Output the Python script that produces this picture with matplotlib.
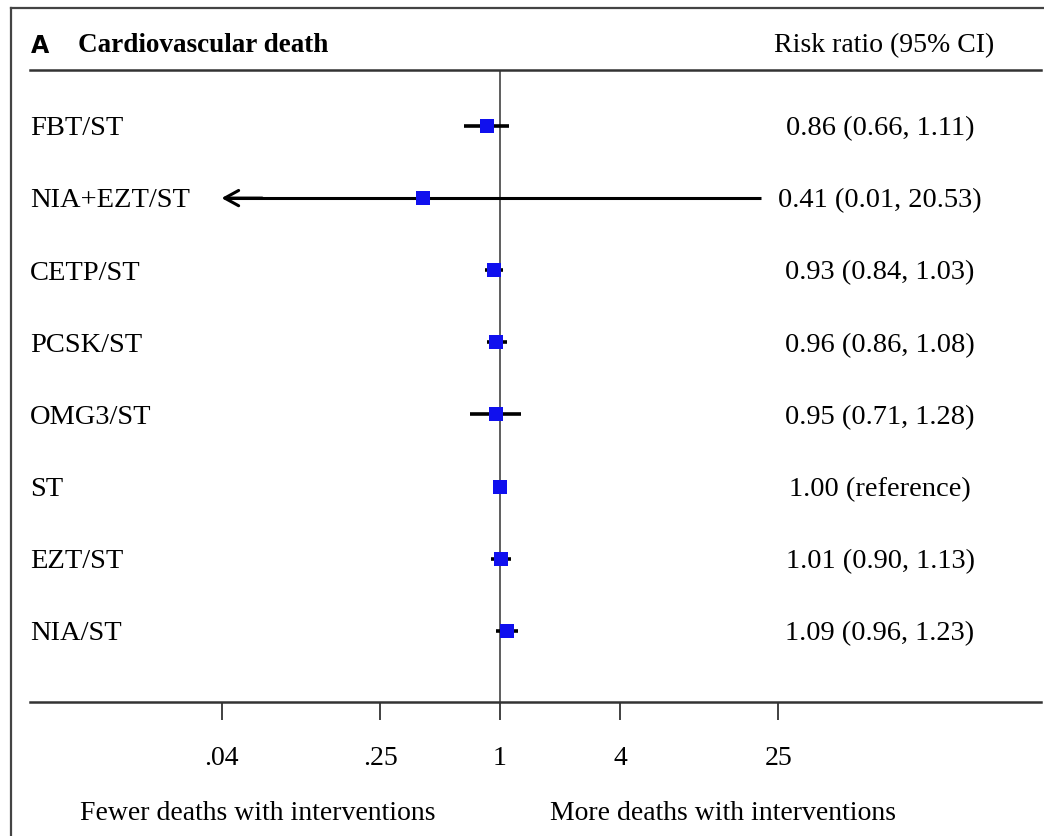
import matplotlib
matplotlib.use("Agg")
import matplotlib.pyplot as plt
from matplotlib.lines import Line2D
import numpy as np

labels = ["FBT/ST", "NIA+EZT/ST", "CETP/ST", "PCSK/ST", "OMG3/ST", "ST", "EZT/ST", "NIA/ST"]
rr = [0.86, 0.41, 0.93, 0.96, 0.95, 1.00, 1.01, 1.09]
lo = [0.66, 0.01, 0.84, 0.86, 0.71, 1.00, 0.90, 0.96]
hi = [1.11, 20.53, 1.03, 1.08, 1.28, 1.00, 1.13, 1.23]
is_ref = [False, False, False, False, False, True, False, False]
tick_vals = [0.04, 0.25, 1, 4, 25]
tick_labels = [".04", ".25", "1", "4", "25"]
title_letter = "A"
title_text = "Cardiovascular death"
col_header = "Risk ratio (95% CI)"
left_note = "Fewer deaths with interventions"
right_note = "More deaths with interventions"
clip_low = 0.04

W, H = 1044, 836
fig = plt.figure(figsize=(W / 100, H / 100), dpi=100)
serif = "Liberation Serif"

def fx(px):
    return px / W

def fy(py):
    return 1 - py / H

# axes region: x 30..1041 px, y 70..702 px
ax = fig.add_axes([fx(30), fy(702), fx(1041) - fx(30), fy(70) - fy(702)])
ax.set_xscale("log")
k = 86.5  # px per ln unit
xmin = np.exp(-(500 - 30) / k)
xmax = np.exp((1041 - 500) / k)
ax.set_xlim(xmin, xmax)
row0, step = 126, 72.1
ax.set_ylim((702 - row0) / step, -(row0 - 70) / step)

for s in ["left", "right"]:
    ax.spines[s].set_visible(False)
for s in ["top", "bottom"]:
    ax.spines[s].set_linewidth(1.8)
    ax.spines[s].set_color("#333333")
ax.set_yticks([])
ax.set_xticks(tick_vals)
ax.set_xticklabels(tick_labels, fontfamily=serif, fontsize=20)
ax.xaxis.set_minor_locator(matplotlib.ticker.NullLocator())
ax.tick_params(axis="x", direction="out", length=13, width=1.3, color="#333333", pad=19)

ax.axvline(1, color="#333333", lw=1.1, zorder=1)

ytr = ax.get_yaxis_transform()
dy = 0.04  # small downward shift of text relative to row centre (data units)
for i, (lab, r, l, h, ref) in enumerate(zip(labels, rr, lo, hi, is_ref)):
    if not ref:
        if l < clip_low:
            ax.plot([clip_low * 1.05, h], [i, i], color="black", lw=2.2, solid_capstyle="butt", zorder=2)
            ax.annotate("", xy=(clip_low, i), xytext=(clip_low * 1.6, i),
                        arrowprops=dict(arrowstyle="->,head_length=1.0,head_width=0.55",
                                        lw=2.2, color="black", shrinkA=0, shrinkB=0), zorder=2)
        else:
            ax.plot([l, h], [i, i], color="black", lw=2.6, solid_capstyle="butt", zorder=2)
        txt = f"{r:.2f} ({l:.2f}, {h:.2f})"
    else:
        txt = f"{r:.2f} (reference)"
    ax.plot([r], [i], marker="s", color="#1010ee", markersize=10, zorder=3, markeredgewidth=0)
    ax.text(0.0, i + dy, lab, transform=ytr, ha="left", va="center", fontfamily=serif, fontsize=20.5)
    ax.text((880 - 30) / 1011, i + dy, txt, transform=ytr, ha="center", va="center",
            fontfamily=serif, fontsize=20.5)

# header
fig.text(fx(31), fy(46), title_letter, ha="left", va="center", fontfamily="DejaVu Sans",
         fontweight="bold", fontsize=17)
fig.text(fx(78), fy(46), title_text, ha="left", va="center", fontfamily=serif,
         fontweight="bold", fontsize=19.5)
fig.text(fx(884), fy(46), col_header, ha="center", va="center", fontfamily=serif, fontsize=20)

# bottom notes
fig.text(fx(258), fy(813), left_note, ha="center", va="center", fontfamily=serif, fontsize=20)
fig.text(fx(723), fy(813), right_note, ha="center", va="center", fontfamily=serif, fontsize=20)

# outer frame (left and top)
fig.add_artist(Line2D([fx(11), fx(11)], [fy(8), 0], color="#444444", lw=1.6))
fig.add_artist(Line2D([fx(11), 1], [fy(8), fy(8)], color="#444444", lw=1.6))

fig.savefig("out.png", dpi=100)
